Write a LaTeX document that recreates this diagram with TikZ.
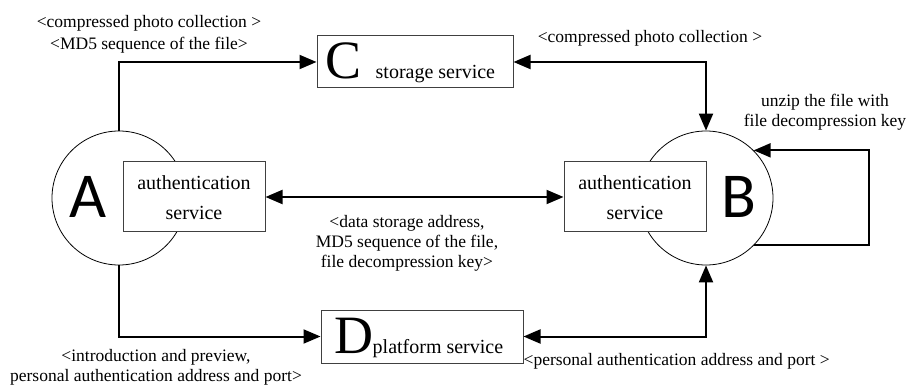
\documentclass[tikz,border=0pt]{standalone}
\usepackage{fontspec}
\setmainfont{Liberation Serif}
\newfontfamily\bigsans{Carlito}
\usetikzlibrary{arrows.meta}
\tikzset{
  conn/.style={line width=2pt, draw=black},
  arr/.style={-{Triangle[length=17pt,width=14pt]}},
  dbl/.style={{Triangle[length=17pt,width=14pt]}-{Triangle[length=17pt,width=14pt]}},
  circ/.style={circle, draw=black, line width=0.8pt, minimum size=134pt, inner sep=0pt},
  box/.style={rectangle, draw=black!75, line width=1pt, fill=white, inner sep=0pt},
  boxtext/.style={font=\fontsize{20}{30}\selectfont, align=center, inner sep=0pt},
  lbl/.style={font=\fontsize{17.5}{20}\selectfont, align=center, inner sep=0pt},
  biglet/.style={font=\bigsans\fontsize{64}{64}\selectfont, inner sep=0pt, anchor=base},
  serlet/.style={font=\fontsize{54}{54}\selectfont, inner sep=0pt, anchor=base west},
  svc/.style={font=\fontsize{20}{20}\selectfont, inner sep=0pt, anchor=base west}
}
\begin{document}
\begin{tikzpicture}[x=1pt,y=-1pt]
\useasboundingbox (0,0) rectangle (910,387);
% circles
\node[circ] (A) at (119,198) {};
\node[circ] (B) at (706,198) {};
\node[biglet] (Alet) at (88,218) {A};
\node[biglet] (Blet) at (739,218) {B};
% authentication boxes
\node[box, minimum width=142pt, minimum height=70pt] (Aauth) at (194,197) {};
\node[boxtext] (Aauthtxt) at (194,198) {authentication\\service};
\node[box, minimum width=142pt, minimum height=70pt] (Bauth) at (635,197) {};
\node[boxtext] (Bauthtxt) at (635,198) {authentication\\service};
% C box
\node[box, minimum width=196pt, minimum height=52pt] (C) at (415,62) {};
\node[serlet] (Clet) at (325.5,79) {C};
\node[svc] (Ctxt) at (375.5,79) {storage service};
% D box
\node[box, minimum width=202pt, minimum height=53pt] (D) at (422,336.5) {};
\node[serlet] (Dlet) at (334,353) {D};
\node[svc] (Dtxt) at (372.5,353) {platform service};
% connectors
\draw[conn, arr] (A.north) |- (C.west);
\draw[conn, dbl] (C.east) -| (B.north);
\draw[conn, dbl] (Aauth.east) -- (Bauth.west);
\draw[conn, arr] (A.south) |- (D.west);
\draw[conn, dbl] (D.east) -| (B.south);
\coordinate (loopR) at (869,198);
\draw[conn, arr] (B.-44) -- (B.-44 -| loopR) |- (B.45);
% labels
\node[lbl, font=\fontsize{17.5}{22}\selectfont] (l1) at (149,34) {<compressed photo collection >\\<MD5 sequence of the file>};
\node[lbl] (l2) at (650,38) {<compressed photo collection >};
\node[lbl] (l3) at (825,112) {unzip the file with\\file decompression key};
\node[lbl] (l4) at (407,243) {<data storage address,\\MD5 sequence of the file,\\file decompression key>};
\node[lbl] (l5) at (156,367.5) {<introduction and preview,\\personal authentication address and port>};
\node[lbl, anchor=west] (l6) at (523.5,361) {<personal authentication address and port >};
\end{tikzpicture}
\end{document}
